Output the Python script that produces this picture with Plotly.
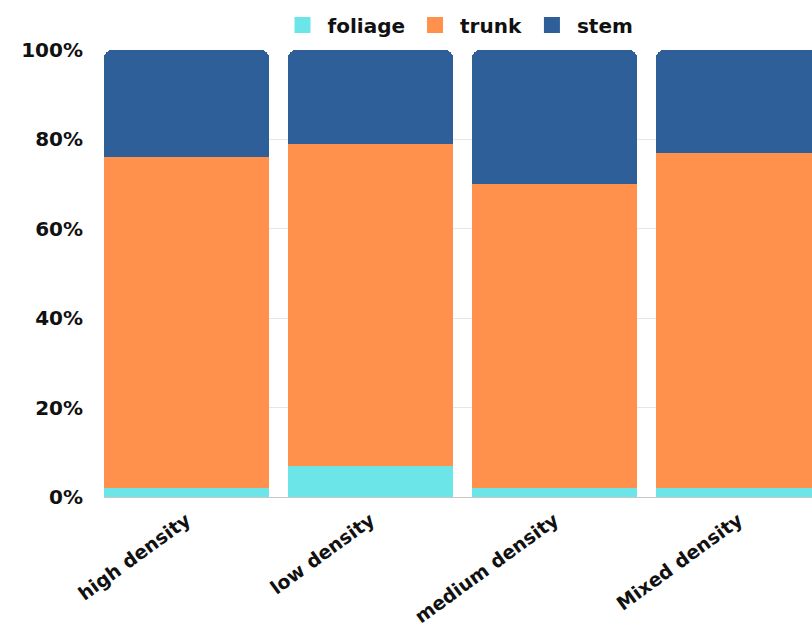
import plotly.graph_objects as go

categories = ["high density", "low density", "medium density", "Mixed density"]
foliage = [2, 7, 2, 2]
trunk = [74, 72, 68, 75]
stem = [24, 21, 30, 23]
y_ticks = [0, 20, 40, 60, 80, 100]
y_tick_text = ["0%", "20%", "40%", "60%", "80%", "100%"]

colors = {"foliage": "#6be5e8", "trunk": "#ff914d", "stem": "#2f5f98"}
font_family = "DejaVu Sans"

fig = go.Figure()
series = [("foliage", foliage), ("trunk", trunk), ("stem", stem)]
for name, vals in series:
    fig.add_trace(go.Bar(
        x=categories, y=vals, name=name,
        marker=dict(color=colors[name], line=dict(width=0)),
        showlegend=False, legendgroup=name,
        hoverinfo="x+y+name",
    ))
# legend entries with large square swatches
for name, _ in series:
    fig.add_trace(go.Scatter(
        x=[None], y=[None], mode="markers", name=name, legendgroup=name,
        marker=dict(symbol="square", size=24, color=colors[name]),
        showlegend=True, hoverinfo="skip",
    ))

fig.update_layout(
    width=812, height=628,
    barmode="stack",
    bargap=0.103,
    barcornerradius=8,
    plot_bgcolor="white", paper_bgcolor="white",
    margin=dict(l=104, r=0, t=50, b=131),
    font=dict(family=font_family, size=19, color="#111111", weight="bold"),
    legend=dict(
        orientation="h", x=0.5, xanchor="center", y=1.056, yanchor="middle",
        font=dict(family=font_family, size=20, color="#111111", weight="bold"),
        itemwidth=40, traceorder="normal", itemsizing="trace",
    ),
    xaxis=dict(
        type="category",
        range=[-0.4485, 3.3995],
        tickangle=-36,
        automargin=False,
        ticks="outside", ticklen=4, tickcolor="rgba(0,0,0,0)",
        showgrid=False, showline=False, zeroline=False,
        tickfont=dict(family=font_family, size=19, color="#111111", weight="bold"),
    ),
    yaxis=dict(
        range=[0, 100],
        automargin=False,
        tickvals=y_ticks, ticktext=y_tick_text,
        showgrid=True, gridcolor="#e6e6e6", gridwidth=1,
        zeroline=True, zerolinecolor="#c8c8c8", zerolinewidth=1,
        showline=False,
        ticklabelstandoff=20,
        tickfont=dict(family=font_family, size=20, color="#111111", weight="bold"),
    ),
)

fig.write_html("out.html")
